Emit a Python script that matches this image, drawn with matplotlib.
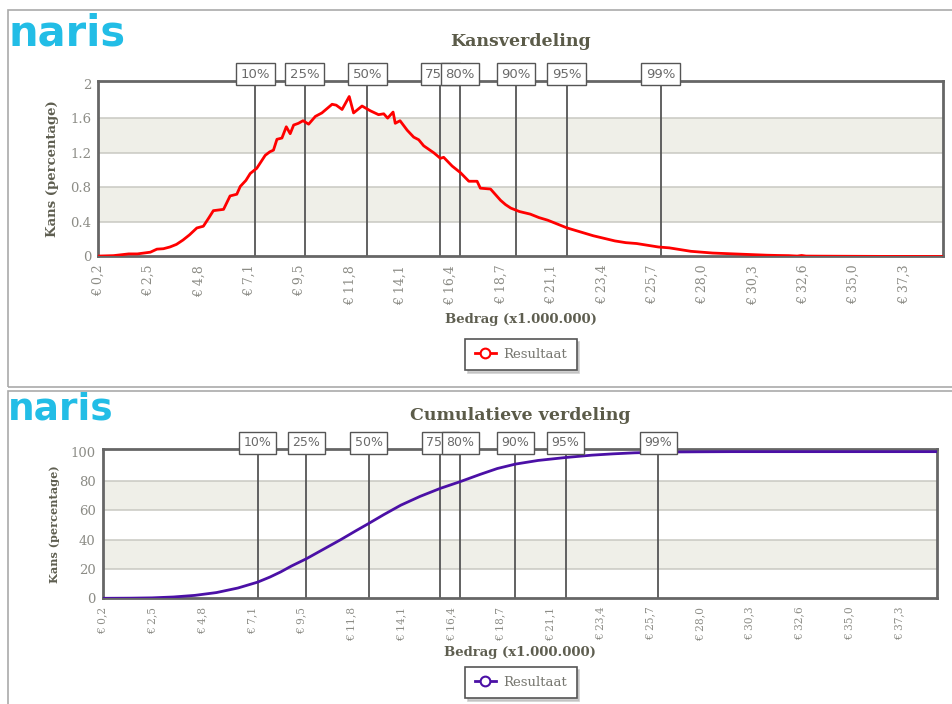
import matplotlib
matplotlib.use("Agg")
import matplotlib.pyplot as plt
from matplotlib.patches import Rectangle
from matplotlib.lines import Line2D
from matplotlib.transforms import blended_transform_factory

# ---------------- data ----------------
density_x = [0.2, 0.9, 1.6, 2.0, 2.3, 2.6, 2.9, 3.2, 3.5, 3.8, 4.1, 4.4, 4.74, 5.04, 5.3, 5.5,
             5.97, 6.27, 6.58, 6.74, 7.0, 7.2, 7.5, 7.89, 8.1, 8.27, 8.43, 8.66, 8.86, 9.04,
             9.2, 9.42, 9.63, 9.89, 10.2, 10.5, 10.97, 11.16, 11.43, 11.76, 11.96, 12.35,
             12.73, 13.11, 13.35, 13.53, 13.78, 13.88, 14.1, 14.43, 14.73, 14.96, 15.19,
             15.65, 15.96, 16.11, 16.5, 16.88, 17.27, 17.65, 17.8, 18.27, 18.73, 18.96,
             19.2, 19.6, 20.1, 20.5, 20.9, 21.3, 21.8, 22.2, 22.6, 23.0, 23.5, 24.0, 24.5,
             25.0, 25.5, 26.0, 26.5, 27.0, 27.5, 28.0, 28.5, 29.0, 29.5, 30.0, 30.5, 31.0,
             31.5, 32.0, 32.4, 32.6, 32.8, 33.5, 34.5, 35.5, 36.5, 37.5, 39.1]
density_y = [0.005, 0.01, 0.03, 0.03, 0.04, 0.05, 0.085, 0.09, 0.11, 0.14, 0.19, 0.25, 0.33,
             0.35, 0.45, 0.53, 0.545, 0.70, 0.72, 0.81, 0.88, 0.96, 1.02, 1.17, 1.21, 1.23,
             1.355, 1.37, 1.50, 1.42, 1.52, 1.54, 1.57, 1.53, 1.62, 1.66, 1.76, 1.75, 1.70,
             1.85, 1.66, 1.74, 1.685, 1.64, 1.65, 1.60, 1.67, 1.54, 1.57, 1.46, 1.38, 1.35,
             1.28, 1.20, 1.135, 1.147, 1.046, 0.97, 0.87, 0.87, 0.79, 0.78, 0.65, 0.60,
             0.56, 0.52, 0.49, 0.45, 0.42, 0.38, 0.33, 0.30, 0.27, 0.24, 0.21, 0.18, 0.16,
             0.15, 0.13, 0.11, 0.10, 0.08, 0.06, 0.05, 0.04, 0.035, 0.03, 0.025, 0.02,
             0.015, 0.012, 0.01, 0.005, 0.012, 0.005, 0.004, 0.003, 0.002, 0.001, 0.001, 0.0]

cumul_x = [0.2, 1.5, 2.5, 3.5, 4.5, 5.5, 6.5, 7.42, 8.0, 8.5, 9.0, 9.7, 10.5, 11.3, 12.0,
           12.6, 13.3, 14.1, 15.0, 15.95, 16.86, 17.8, 18.6, 19.44, 20.5, 21.78, 23.0,
           24.0, 25.0, 26.1, 27.0, 28.0, 29.5, 31.0, 39.1]
cumul_y = [0.0, 0.1, 0.3, 0.9, 2.0, 3.9, 7.0, 11.0, 14.5, 18.0, 22.0, 27.0, 33.5, 40.0,
           46.0, 51.0, 57.0, 63.5, 69.5, 75.0, 79.5, 84.5, 88.5, 91.5, 94.0, 96.0, 97.6,
           98.5, 99.2, 99.6, 99.8, 99.9, 100.0, 100.0, 100.0]

percentile_labels = ["10%", "25%", "50%", "75%", "80%", "90%", "95%", "99%"]
percentile_x = [7.42, 9.70, 12.60, 15.95, 16.86, 19.44, 21.78, 26.10]

xtick_values = [0.2, 2.52, 4.84, 7.16, 9.48, 11.8, 14.12, 16.44, 18.76, 21.08, 23.4,
                25.72, 28.04, 30.36, 32.68, 35.0, 37.32]
xtick_labels = ["€ 0,2", "€ 2,5", "€ 4,8", "€ 7,1", "€ 9,5", "€ 11,8", "€ 14,1", "€ 16,4",
                "€ 18,7", "€ 21,1", "€ 23,4", "€ 25,7", "€ 28,0", "€ 30,3", "€ 32,6",
                "€ 35,0", "€ 37,3"]
density_yticks = [0, 0.4, 0.8, 1.2, 1.6, 2]
density_yticklabels = ["0", "0.4", "0.8", "1.2", "1.6", "2"]
cumul_yticks = [0, 20, 40, 60, 80, 100]
cumul_yticklabels = ["0", "20", "40", "60", "80", "100"]

# ---------------- layout ----------------
W, H = 952, 704
fig = plt.figure(figsize=(W / 100, H / 100), dpi=100)
fig.patch.set_facecolor("white")


def fx(x):
    return x / W


def fy(y):
    return 1 - y / H


TITLE_C = "#5b5b49"
LABEL_C = "#5e5e50"
TICK_C = "#8c8c86"
FRAME_C = "#666666"
BAND_C = "#efefe8"
GRID_C = "#c9c9c2"
SERIF = "DejaVu Serif"

# panel borders
fig.patches.append(Rectangle((fx(8), fy(387)), fx(960) - fx(8), fy(10) - fy(387),
                             transform=fig.transFigure, fill=False, edgecolor="#aaaaaa", lw=1.2))
fig.patches.append(Rectangle((fx(8), fy(720)), fx(960) - fx(8), fy(391) - fy(720),
                             transform=fig.transFigure, fill=False, edgecolor="#aaaaaa", lw=1.2))

# logos
for base, size in ((45, 30), (420, 27)):
    fig.text(fx(8), fy(base), "naris", color="#22bde6", fontsize=size, fontweight="bold",
             family="DejaVu Sans", ha="left", va="baseline")


def setup_axes(rect, xs, ys, color, yticks, yticklabels, ylim, title, title_y, legend_y,
               bands, vscale, box_fs, xlabel_pad):
    ax = fig.add_axes(rect)
    ax.set_xlim(0.2, 39.1)
    ax.set_ylim(*ylim)
    for b0, b1 in bands:
        ax.axhspan(b0, b1, color=BAND_C, zorder=0, lw=0)
    for yt in yticks[1:-1]:
        ax.axhline(yt, color=GRID_C, lw=1.1, zorder=1)
    trans = blended_transform_factory(ax.transData, ax.transAxes)
    for i, (lab, px) in enumerate(zip(percentile_labels, percentile_x)):
        ax.axvline(px, color="#555555", lw=1.3, zorder=2)
        ax.text(px, 1.0, lab, transform=trans, ha="center", va="bottom", fontsize=box_fs,
                family="DejaVu Sans", color="#6a6a6a", zorder=10 + i, clip_on=False,
                bbox=dict(boxstyle="square,pad=0.36", facecolor="white", edgecolor="#555555", lw=1.0))
    ax.plot(xs, ys, color=color, lw=2.0, zorder=5)
    ax.set_xticks(xtick_values)
    ax.set_xticklabels(xtick_labels, rotation=90, family=SERIF, fontsize=9 * vscale, color=TICK_C)
    ax.set_yticks(yticks)
    ax.set_yticklabels(yticklabels, family=SERIF, fontsize=9.5, color=TICK_C)
    ax.tick_params(axis="both", length=0)
    ax.tick_params(axis="x", pad=6)
    ax.tick_params(axis="y", pad=5)
    for s in ax.spines.values():
        s.set_color(FRAME_C)
        s.set_linewidth(2)
    ax.set_ylabel("Kans (percentage)", family=SERIF, fontweight="bold", fontsize=9.5 * vscale,
                  color=LABEL_C, labelpad=8)
    ax.set_xlabel("Bedrag (x1.000.000)", family=SERIF, fontweight="bold", fontsize=9.5,
                  color=LABEL_C, labelpad=xlabel_pad)
    cx = (rect[0] + rect[0] + rect[2]) / 2
    fig.text(cx, fy(title_y), title, ha="center", va="center", family=SERIF,
             fontweight="bold", fontsize=12.5, color=TITLE_C)
    handle = Line2D([], [], color=color, lw=2, marker="o", markersize=7,
                    markerfacecolor="white", markeredgecolor=color, markeredgewidth=1.5)
    leg = ax.legend([handle], ["Resultaat"], loc="center", bbox_to_anchor=(fx(521), fy(legend_y)),
                    bbox_transform=fig.transFigure, frameon=True, fancybox=False,
                    shadow={"color": "#bbbbbb", "alpha": 0.7},
                    prop=dict(family=SERIF, size=9.5), handlelength=1.6, borderpad=0.7,
                    handletextpad=0.6)
    leg.get_frame().set_edgecolor("#555555")
    leg.get_frame().set_linewidth(1.2)
    for t in leg.get_texts():
        t.set_color("#777770")
    return ax


ax1 = setup_axes([fx(98.3), fy(256.5), fx(942.7) - fx(98.3), fy(80.5) - fy(256.5)],
                 density_x, density_y, "#ff0000", density_yticks, density_yticklabels,
                 (0, 2.035), "Kansverdeling", 41, 354.5, [(0.4, 0.8), (1.2, 1.6)], 1.0, 9.5, 6)
ax2 = setup_axes([fx(102.7), fy(598.3), fx(937) - fx(102.7), fy(449.3) - fy(598.3)],
                 cumul_x, cumul_y, "#4b10a6", cumul_yticks, cumul_yticklabels,
                 (0, 101.6), "Cumulatieve verdeling", 415, 682.5, [(20, 40), (60, 80)], 0.85, 9.0, 4)

fig.savefig("out.png", dpi=100, facecolor="white")
